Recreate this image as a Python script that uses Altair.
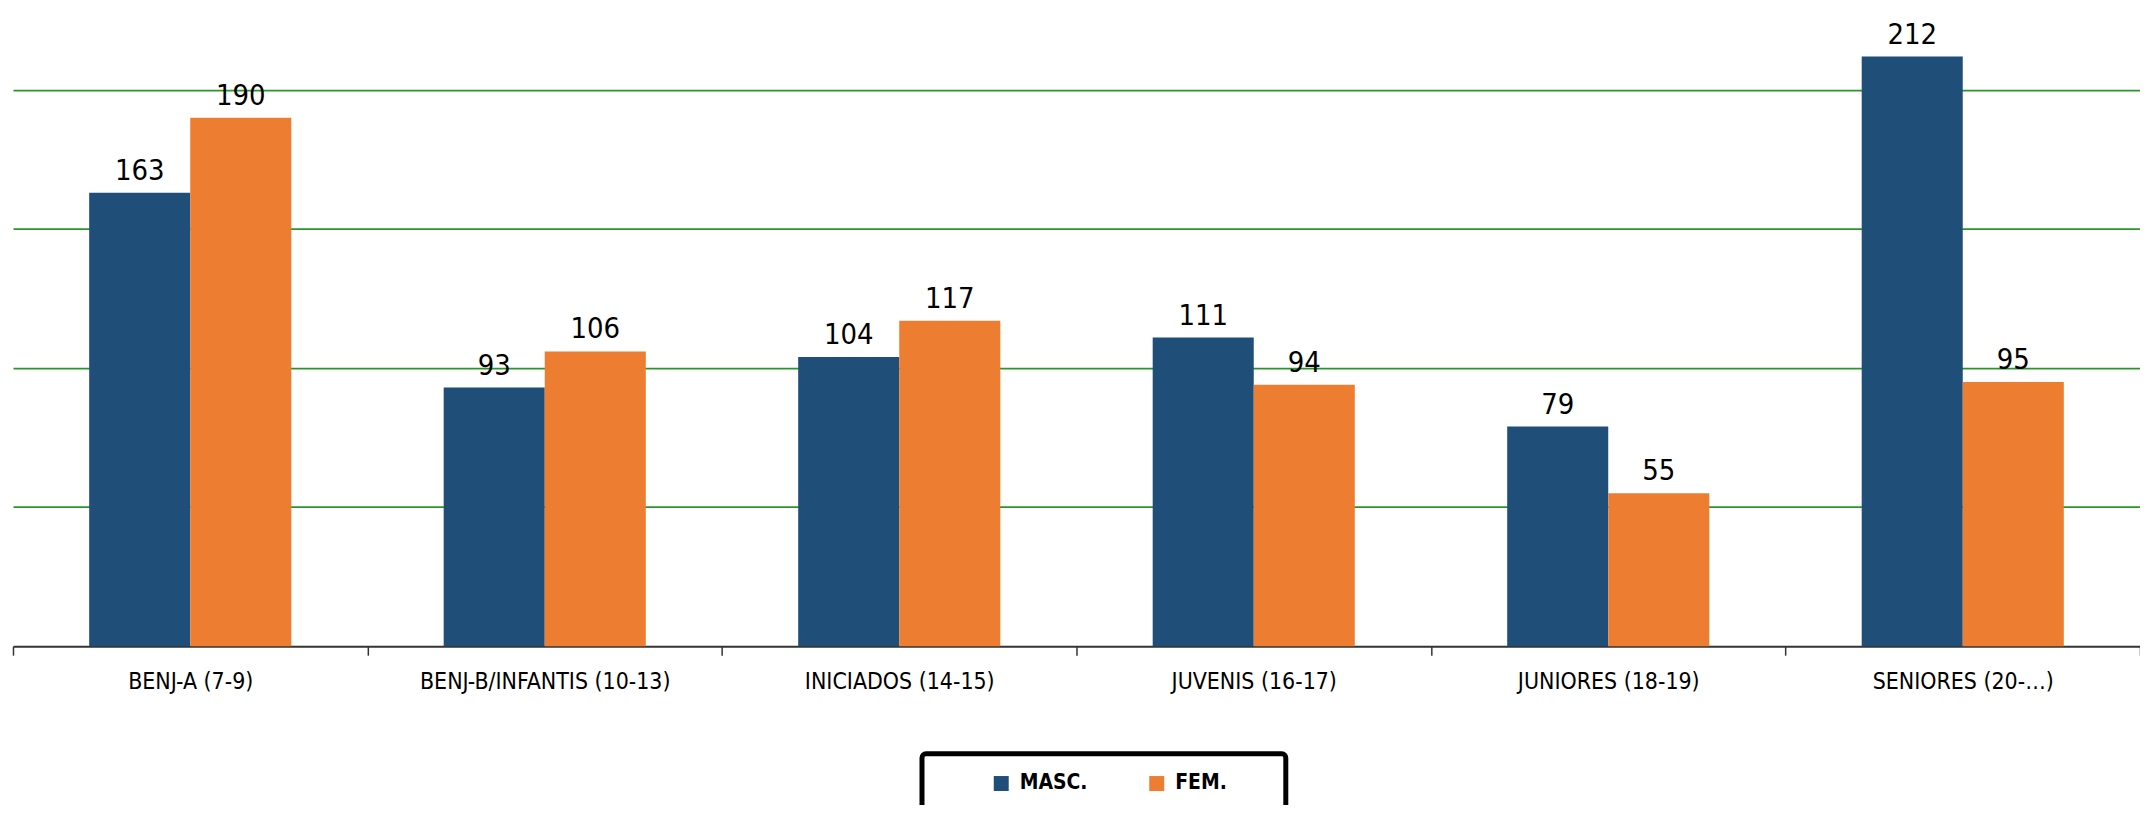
import altair as alt
import pandas as pd

categories = ["BENJ-A (7-9)", "BENJ-B/INFANTIS (10-13)", "INICIADOS (14-15)",
              "JUVENIS (16-17)", "JUNIORES (18-19)", "SENIORES (20-…)"]
series = ["MASC.", "FEM."]
masc = [163, 93, 104, 111, 79, 212]
fem = [190, 106, 117, 94, 55, 95]
grid_values = [50, 100, 150, 200]

rows = []
for c, m, f in zip(categories, masc, fem):
    rows.append({"cat": c, "sexo": "MASC.", "v": m})
    rows.append({"cat": c, "sexo": "FEM.", "v": f})
df = pd.DataFrame(rows)

FONT = "Liberation Sans Narrow, DejaVu Sans Condensed, Liberation Sans, sans-serif"

x = alt.X("cat:N", sort=categories, title=None,
          scale=alt.Scale(paddingInner=0, paddingOuter=0),
          axis=alt.Axis(labelAngle=0, labelFont=FONT, labelFontSize=23,
                        labelColor="black", labelPadding=15, tickBand="extent",
                        tickSize=9, tickColor="#333", tickWidth=1.5,
                        domainColor="#333", domainWidth=2, grid=False,
                        labelLimit=400))
xo = alt.XOffset("sexo:N", sort=series,
                 scale=alt.Scale(paddingInner=0, paddingOuter=0.754))
y = alt.Y("v:Q", title=None,
          scale=alt.Scale(domain=[0, 229], nice=False),
          axis=alt.Axis(values=grid_values, labels=False, ticks=False, domain=False,
                        grid=True, gridColor="#2a962a", gridWidth=1.8))

base = alt.Chart(df).encode(x=x, xOffset=xo, y=y)

# trailing no-break spaces (closed by a zero-width space so they are not trimmed)
# only widen the last legend entry so the frame reaches its right edge
pad = "\u00a0" * 6 + "\u200b"
label_expr = f"datum.label == 'FEM.' ? datum.label + '{pad}' : datum.label"

bars = base.mark_bar().encode(
    color=alt.Color("sexo:N", sort=series,
                    scale=alt.Scale(domain=series, range=["#1F4E79", "#ED7D31"]),
                    legend=alt.Legend(title=None, orient="none", legendX=912, legendY=747,
                                      direction="horizontal", strokeColor="black",
                                      cornerRadius=4, padding=19,
                                      fillColor="white",
                                      symbolType="square", symbolSize=225,
                                      symbolStrokeWidth=0, symbolOffset=50,
                                      labelFont=FONT, labelFontSize=21,
                                      labelFontWeight="bold", labelColor="black",
                                      labelOffset=8, columnPadding=8,
                                      labelExpr=label_expr,
                                      gridAlign="each"))
)

labels = base.mark_text(baseline="alphabetic", dy=-13, font=FONT, fontSize=29,
                        color="black").encode(text="v:Q")

chart = (bars + labels).properties(
    width=2134, height=639,
    padding={"left": 5, "top": 0, "right": 0, "bottom": 158},
    autosize=alt.AutoSizeParams(type="none"),
).configure_view(stroke=None).configure_legend(strokeWidth=5)

chart.save("out.html", embed_options={"renderer": "svg", "actions": False})
